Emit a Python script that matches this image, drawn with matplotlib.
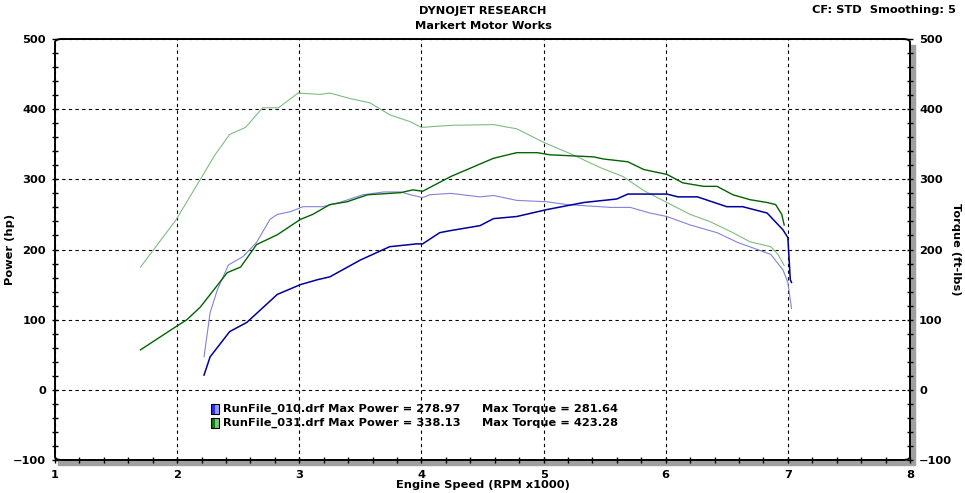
import numpy as np
import matplotlib
matplotlib.use("Agg")
import matplotlib.pyplot as plt
from matplotlib.patches import Rectangle, FancyBboxPatch
from matplotlib.ticker import MultipleLocator

# dyno sheet: two runs, power + torque for each
rpm_pw_010 = [2.22, 2.27, 2.43, 2.57, 2.82, 3.01, 3.15, 3.25, 3.50, 3.74, 3.96, 4.01, 4.15, 4.24,
              4.48, 4.59, 4.78, 5.03, 5.33, 5.60, 5.69, 6.01, 6.10, 6.26, 6.50, 6.63, 6.83,
              6.96, 7.00, 7.02, 7.03]
hp_010 = [21, 47, 83, 96, 136, 150, 157, 161, 185, 204, 208, 208, 224, 227,
          234, 244, 247, 257, 267, 272, 279, 279, 275, 275, 261, 261, 252,
          228, 217, 157, 153]

rpm_tq_010 = [2.22, 2.27, 2.33, 2.42, 2.54, 2.65, 2.76, 2.82, 2.93, 3.03, 3.19, 3.33, 3.52, 3.69,
              3.83, 3.91, 4.01, 4.07, 4.24, 4.48, 4.59, 4.78, 5.03, 5.19, 5.55, 5.71, 5.87,
              6.01, 6.20, 6.42, 6.59, 6.75, 6.86, 6.96, 7.00, 7.03]
tq_010 = [47, 110, 143, 178, 190, 210, 243, 250, 254, 261, 261, 267, 278, 282,
          282, 278, 274, 278, 280, 275, 277, 270, 268, 264, 260, 260, 252,
          247, 235, 224, 210, 200, 193, 171, 153, 116]

rpm_pw_031 = [1.70, 1.99, 2.08, 2.19, 2.41, 2.52, 2.65, 2.82, 3.01, 3.11, 3.25, 3.39, 3.56, 3.83,
              3.93, 4.01, 4.24, 4.59, 4.78, 4.95, 5.05, 5.41, 5.49, 5.69, 5.82, 6.01, 6.14,
              6.31, 6.42, 6.55, 6.69, 6.83, 6.90, 6.95, 6.97]
hp_031 = [57, 90, 100, 118, 167, 175, 207, 221, 243, 250, 264, 268, 278, 281,
          285, 283, 304, 330, 338, 338, 335, 332, 329, 325, 314, 307, 295,
          290, 290, 278, 271, 267, 264, 250, 235]

rpm_tq_031 = [1.70, 1.99, 2.19, 2.31, 2.43, 2.56, 2.70, 2.83, 2.99, 3.17, 3.25, 3.42, 3.58, 3.74,
              3.91, 4.00, 4.24, 4.59, 4.78, 5.01, 5.24, 5.46, 5.65, 5.82, 6.01, 6.20, 6.36,
              6.55, 6.69, 6.86, 6.92, 6.97]
tq_031 = [175, 242, 300, 335, 364, 374, 402, 402, 423, 421, 423, 415, 409, 392,
          382, 374, 377, 378, 372, 352, 335, 317, 304, 284, 267, 250, 240,
          224, 211, 204, 193, 177]

legend_rows = [
    ("RunFile_010.drf Max Power = 278.97", "Max Torque = 281.64", "#2a2aff", "#9a9aff"),
    ("RunFile_031.drf Max Power = 338.13", "Max Torque = 423.28", "#0a800a", "#80c080"),
]

plt.rcParams['font.family'] = 'DejaVu Sans'
plt.rcParams['font.weight'] = 'bold'
plt.rcParams['font.size'] = 8.2

fig = plt.figure(figsize=(9.65, 4.93), dpi=100)
ax = fig.add_axes([55 / 965, 1 - 460 / 493, 855 / 965, 421 / 493])

ax.plot(rpm_tq_031, tq_031, color="#80bc80", lw=0.8)
ax.plot(rpm_tq_010, tq_010, color="#8282dc", lw=0.8)
ax.plot(rpm_pw_031, hp_031, color="#006400", lw=1.0)
ax.plot(rpm_pw_010, hp_010, color="#00009c", lw=1.1)

ax.set_xlim(1, 8)
ax.set_ylim(-100, 500)
ax.xaxis.set_major_locator(MultipleLocator(1))
ax.xaxis.set_minor_locator(MultipleLocator(0.2))
ax.yaxis.set_major_locator(MultipleLocator(100))
ax.yaxis.set_minor_locator(MultipleLocator(20))
ax.grid(True, which='major', color='black', ls=(0, (3, 3)), lw=0.8)

# torque shares the same scale, so the right side just mirrors the left ticks
ax.tick_params(which='both', direction='inout', length=5, width=1, color='black',
               left=True, right=True, bottom=True, top=False,
               labelleft=True, labelright=True)
ax.tick_params(axis='y', pad=4)
ax.tick_params(axis='x', pad=5)

for s in ax.spines.values():
    s.set_visible(False)

# rounded frame + grey drop shadow like the dynojet printout
frame = FancyBboxPatch((0, 0), 1, 1, boxstyle="round,pad=0,rounding_size=0.008",
                       transform=ax.transAxes, fill=False, ec='black', lw=1.4,
                       clip_on=False, zorder=5)
ax.add_patch(frame)
sh = Rectangle((58 / 965, 1 - 465 / 493), 857 / 965, 420 / 493,
               transform=fig.transFigure, color='#a0a0a0', zorder=-1)
fig.patches.append(sh)

# axis titles placed by hand so nothing gets clipped at the edges
fig.text(483 / 965, 1 - 485 / 493, "Engine Speed (RPM x1000)", ha='center', va='center')
fig.text(10 / 965, 1 - 249 / 493, "Power (hp)", rotation=90, ha='center', va='center')
fig.text(956 / 965, 1 - 249 / 493, "Torque (ft-lbs)", rotation=-90, ha='center', va='center')

fig.text(483 / 965, 1 - 11 / 493, "DYNOJET RESEARCH", ha='center', va='center')
fig.text(483 / 965, 1 - 26 / 493, "Markert Motor Works", ha='center', va='center')
fig.text(956 / 965, 1 - 10 / 493, "CF: STD  Smoothing: 5", ha='right', va='center')

for i, (left_txt, right_txt, c1, c2) in enumerate(legend_rows):
    y = 409 + i * 14
    yf = 1 - y / 493
    fig.patches.append(Rectangle((211 / 965, yf - 5 / 493), 4 / 965, 10 / 493,
                                 transform=fig.transFigure, fc=c1, ec='none', zorder=6))
    fig.patches.append(Rectangle((215 / 965, yf - 5 / 493), 4 / 965, 10 / 493,
                                 transform=fig.transFigure, fc=c2, ec='none', zorder=6))
    fig.patches.append(Rectangle((211 / 965, yf - 5 / 493), 8 / 965, 10 / 493,
                                 transform=fig.transFigure, fill=False, ec='black',
                                 lw=0.8, zorder=7))
    fig.text(223 / 965, yf, left_txt, ha='left', va='center', zorder=8)
    fig.text(482 / 965, yf, right_txt, ha='left', va='center', zorder=8)

fig.savefig("out.png", dpi=100)
